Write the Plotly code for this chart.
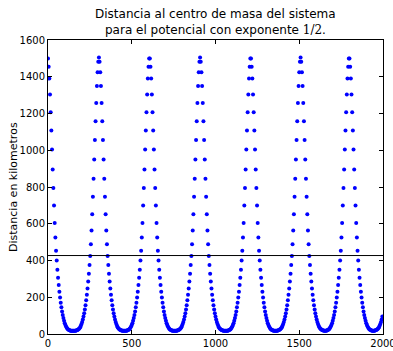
import numpy as np
import plotly.graph_objects as go

# Paso temporal entre muestras (eje x)
paso = 4

# Distancia (km) leída ciclo a ciclo
ciclo_1 = [1499,1455,1390,1304,1207,1107,1004,895,795,700,604,525,453,400,350,306,266,230,198,170,145,123,103,87,72,59,49,41,34,29,25,23,21,19,18,18,18,18,
           18,18,18,18,19,20,22,24,27,31,37,45,54,65,79,95,113,133,157,184,214,248,286,328,375,425,488,563,652,747,845,950,1056,1158,1257,1350,1425,1482]
ciclo_2 = [1505,1482,1425,1350,1257,1158,1056,950,845,747,652,563,488,425,375,328,286,248,214,184,157,133,113,95,79,65,54,45,37,31,27,24,22,20,19,18,18,18,
           18,18,18,18,19,21,23,25,29,34,41,49,59,72,87,103,123,145,170,198,230,266,306,350,400,453,525,604,700,795,895,1004,1107,1207,1304,1390,1455,1499]
ciclo_3 = [1499,1455,1390,1304,1207,1107,1004,895,795,700,604,525,453,400,350,306,266,230,198,170,145,123,103,87,72,59,49,41,34,29,25,23,21,19,18,18,18,18,
           18,18,18,19,20,22,24,27,31,37,45,54,65,79,95,113,133,157,184,214,248,286,328,375,425,488,563,652,747,845,950,1056,1158,1257,1350,1425,1482,1505]
ciclo_4 = [1482,1425,1350,1257,1158,1056,950,845,747,652,563,488,425,375,328,286,248,214,184,157,133,113,95,79,65,54,45,37,31,27,24,22,20,19,18,18,18,
           18,18,18,18,19,21,23,25,29,34,41,49,59,72,87,103,123,145,170,198,230,266,306,350,400,453,525,604,700,795,895,1004,1107,1207,1304,1390,1455,1499]
ciclo_5 = [1499,1455,1390,1304,1207,1107,1004,895,795,700,604,525,453,400,350,306,266,230,198,170,145,123,103,87,72,59,49,41,34,29,25,23,21,19,18,18,18,
           18,18,18,19,20,22,24,27,31,37,45,54,65,79,95,113,133,157,184,214,248,286,328,375,425,488,563,652,747,845,950,1056,1158,1257,1350,1425,1482,1505]
ciclo_6 = [1482,1425,1350,1257,1158,1056,950,845,747,652,563,488,425,375,328,286,248,214,184,157,133,113,95,79,65,54,45,37,31,27,24,22,20,19,18,18,
           18,18,19,21,23,25,29,34,41,49,59,72,87,103,123,145,170,198,230,266,306,350,400,453,525,604,700,795,895,1004,1107,1207,1304,1390,1455,1499]
ciclo_7 = [1499,1455,1390,1304,1207,1107,1004,895,795,700,604,525,453,400,350,306,266,230,198,170,145,123,103,87,72,59,49,41,34,29,25,23,21,19,18,18,
           18,18,19,20,22,24,27,31,37,45,54,65,79,95]

linea_horizontal = 427

x_ticks = [0, 500, 1000, 1500, 2000]
y_ticks = [0, 200, 400, 600, 800, 1000, 1200, 1400, 1600]

titulo_1 = "Distancia al centro de masa del sistema"
titulo_2 = "para el potencial con exponente <span style=\"font-family:'DejaVu Serif'\">1/2</span>."
etiqueta_y = "Distancia en kilometros"

distancia = ciclo_1 + ciclo_2 + ciclo_3 + ciclo_4 + ciclo_5 + ciclo_6 + ciclo_7
tiempo = np.arange(len(distancia)) * paso

fig = go.Figure()
fig.add_trace(go.Scatter(
    x=tiempo, y=distancia, mode="markers",
    marker=dict(color="#0000ff", size=4, line=dict(width=0)),
    showlegend=False, hoverinfo="skip"))
fig.add_trace(go.Scatter(
    x=[0, 2000], y=[linea_horizontal, linea_horizontal], mode="lines",
    line=dict(color="black", width=1), showlegend=False, hoverinfo="skip"))

font = "DejaVu Sans, Arial, sans-serif"
fig.update_layout(
    width=393, height=351,
    margin=dict(l=48, r=10, t=40, b=17, autoexpand=False),
    paper_bgcolor="white", plot_bgcolor="white",
    font=dict(family=font, size=10, color="black"),
)
fig.add_annotation(text=titulo_1, xref="paper", yref="paper", x=0.5, y=1 + 17 / 294,
                   xanchor="center", yanchor="bottom", showarrow=False,
                   font=dict(family=font, size=12, color="black"))
fig.add_annotation(text=titulo_2, xref="paper", yref="paper", x=0.5, y=1 + 1 / 294,
                   xanchor="center", yanchor="bottom", showarrow=False,
                   font=dict(family=font, size=12, color="black"))
fig.add_annotation(text=etiqueta_y, xref="paper", yref="paper", x=(13 - 48) / 335, y=0.5,
                   xanchor="center", yanchor="middle", textangle=-90, showarrow=False,
                   font=dict(family=font, size=11, color="black"))
fig.update_xaxes(
    range=[0, 2000], tickvals=x_ticks, ticktext=[str(v) for v in x_ticks],
    ticks="inside", ticklen=4, tickcolor="black", showgrid=False, zeroline=False,
    showline=True, linecolor="black", linewidth=1, mirror="ticks",
    tickfont=dict(size=10, color="black"), automargin=False, ticklabeloverflow="allow")
fig.update_yaxes(
    range=[0, 1600], tickvals=y_ticks, ticktext=[str(v) for v in y_ticks],
    ticks="inside", ticklen=4, tickcolor="black", showgrid=False, zeroline=False,
    showline=True, linecolor="black", linewidth=1, mirror="ticks",
    tickfont=dict(size=10, color="black"), automargin=False, ticklabeloverflow="allow")

fig.write_html("out.html")
